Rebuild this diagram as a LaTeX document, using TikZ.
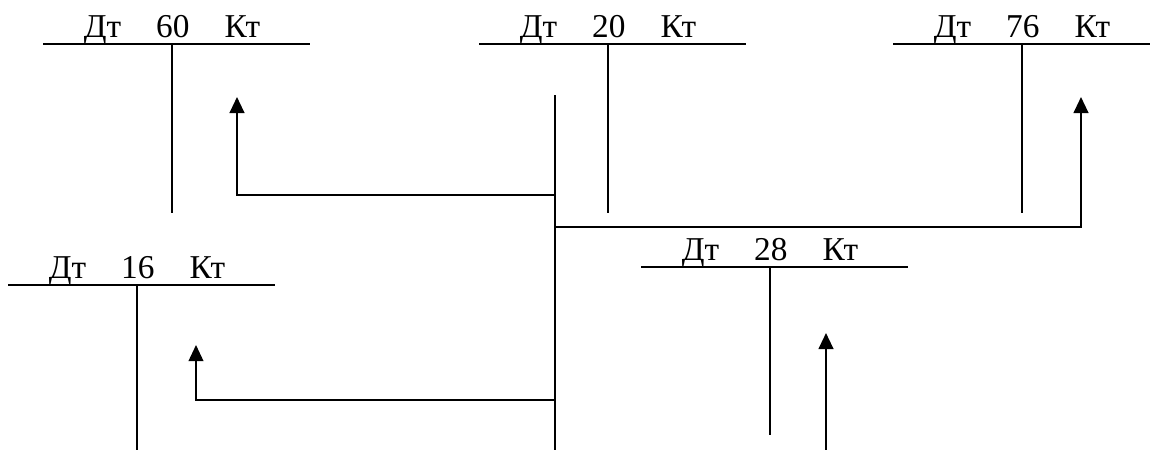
\documentclass[tikz,border=0pt]{standalone}
\usepackage{fontspec}
\setmainfont{Liberation Serif}
\usetikzlibrary{arrows.meta,calc}
\tikzset{
    acc/.style={inner sep=0pt, anchor=base, font=\fontsize{25}{30}\selectfont},
    tline/.style={line width=1.2pt},
    flow/.style={line width=1.6pt, -{Triangle[length=12pt,width=11pt]}}
}
\newcommand{\acclabel}[1]{Дт\hspace{1.05em}#1\hspace{1.05em}Кт}

\begin{document}
\begin{tikzpicture}[x=0.75pt,y=-0.75pt]
  \useasboundingbox (0,0) rectangle (1150,450);

  % Draw the accounts
  \foreach \n/\x/\y/\d/\r/\v in {a/172/44/169/138/60, b/608/44/169/138/20, c/1022/44/169/128/76, d/137/285/170/138/16, e/770/267/168/138/28}{
    \coordinate (\n) at (\x,\y);
    \node[acc] (\n-label) at ($(\n)+(0,-7)$) {\acclabel{\v}};
    \draw[tline] ($(\n)+(-129,0)$) -- ($(\n)+(\r,0)$);
    \draw[tline] (\n) -- ++(0,\d);
  }

  % Draw the main line
  \coordinate (bus-top) at (555,95);
  \coordinate (bus-bot) at (555,450);
  \draw[tline] (bus-top) -- (bus-bot);

  % Draw the arrows
  \coordinate (tap-a) at (555,195);
  \coordinate (tip-a) at (237,97);
  \coordinate (tap-c) at (555,227);
  \coordinate (tip-c) at (1081,97);
  \coordinate (tap-d) at (555,400);
  \coordinate (tip-d) at (196,345);
  \coordinate (src-e) at (826,450);
  \coordinate (tip-e) at (826,333);
  \draw[flow] (tap-a) -| (tip-a);
  \draw[flow] (tap-c) -| (tip-c);
  \draw[flow, line width=1.2pt] (tap-d) -| (tip-d);
  \draw[flow] (src-e) -- (tip-e);
\end{tikzpicture}
\end{document}
